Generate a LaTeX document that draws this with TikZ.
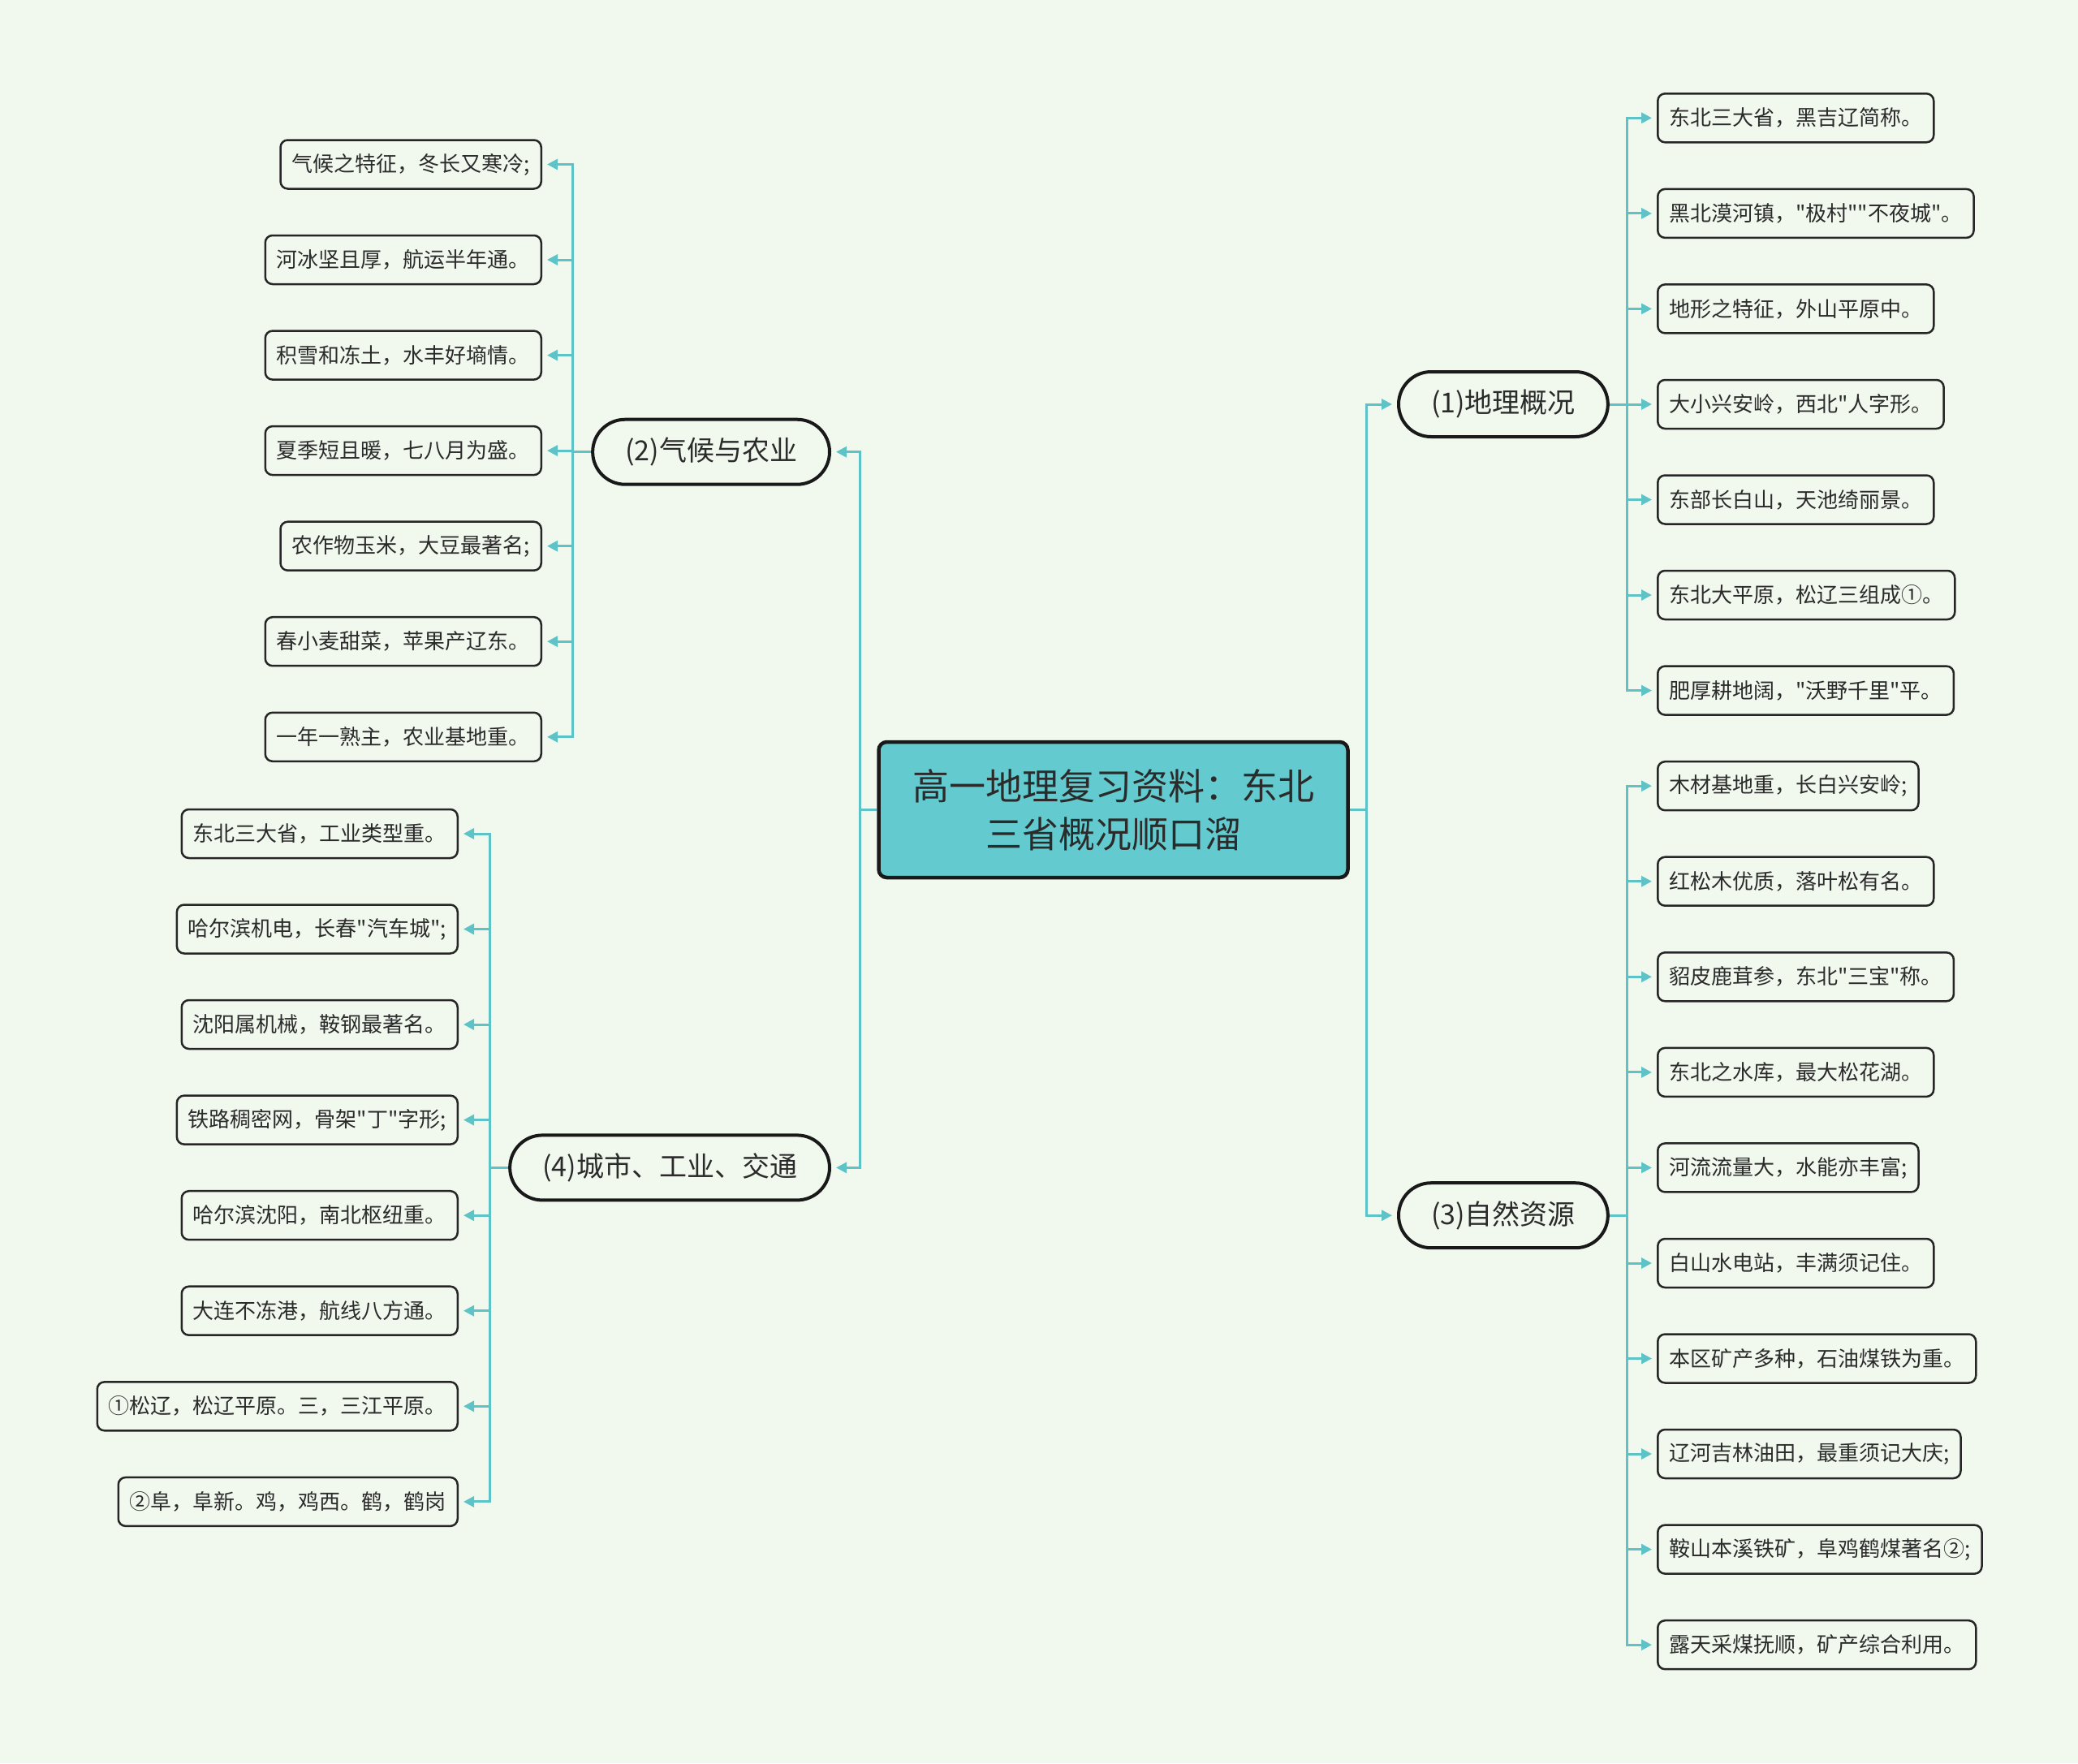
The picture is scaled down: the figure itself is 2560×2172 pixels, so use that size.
\documentclass[tikz,border=0pt]{standalone}
\usepackage{fontspec}
\setmainfont{Noto Sans CJK SC}[Ligatures=TeXOff]
\usetikzlibrary{arrows.meta}
\definecolor{bgC}{HTML}{F1F9EF}
\definecolor{lineC}{HTML}{5EC3C7}
\definecolor{rootC}{HTML}{63CBCF}
\definecolor{txtC}{HTML}{2B2B2B}
\tikzset{
  leaf/.style={draw=black!85, line width=2.5pt, rounded corners=9pt, fill=bgC,
    inner xsep=14pt, inner ysep=0pt, minimum height=60pt, text=txtC,
    font=\fontsize{26}{30}\selectfont},
  topic/.style={draw=black!90, line width=4pt, rounded corners=40pt, fill=bgC,
    inner xsep=40pt, inner ysep=0pt, minimum height=80pt, text=txtC,
    font=\fontsize{34}{40}\selectfont},
  rootbox/.style={draw=black!90, line width=4.5pt, rounded corners=10pt, fill=rootC,
    minimum width=578pt, minimum height=167pt, align=center, text=txtC,
    font=\fontsize{45}{59}\selectfont},
  conn/.style={draw=lineC, line width=3pt},
  arr/.style={conn, -{Triangle[length=13pt,width=13pt]}, shorten >=6pt}
}
\begin{document}
\begin{tikzpicture}[x=1pt,y=-1pt]
\fill[bgC] (0,0) rectangle (2560,2172);
\useasboundingbox (0,0) rectangle (2560,2172);

\node[rootbox] (root) at (1371.5,997.5) {高一地理复习资料：东北\\三省概况顺口溜};

\node[topic, anchor=west] (t1) at (1721,498) {(1)地理概况};
\node[topic, anchor=west] (t3) at (1721,1497.2) {(3)自然资源};
\node[topic, anchor=east] (t2) at (1024,556.7) {(2)气候与农业};
\node[topic, anchor=east] (t4) at (1024,1438.4) {(4)城市、工业、交通};

% (1) children
\node[leaf, anchor=west] (a1) at (2041,145.3) {东北三大省，黑吉辽简称。};
\node[leaf, anchor=west] (a2) at (2041,262.9) {黑北漠河镇，"极村""不夜城"。};
\node[leaf, anchor=west] (a3) at (2041,380.4) {地形之特征，外山平原中。};
\node[leaf, anchor=west] (a4) at (2041,498) {大小兴安岭，西北"人字形。};
\node[leaf, anchor=west] (a5) at (2041,615.5) {东部长白山，天池绮丽景。};
\node[leaf, anchor=west] (a6) at (2041,733) {东北大平原，松辽三组成①。};
\node[leaf, anchor=west] (a7) at (2041,850.6) {肥厚耕地阔，"沃野千里"平。};

% (3) children
\node[leaf, anchor=west] (c1) at (2041,968.2) {木材基地重，长白兴安岭;};
\node[leaf, anchor=west] (c2) at (2041,1085.7) {红松木优质，落叶松有名。};
\node[leaf, anchor=west] (c3) at (2041,1203.3) {貂皮鹿茸参，东北"三宝"称。};
\node[leaf, anchor=west] (c4) at (2041,1320.9) {东北之水库，最大松花湖。};
\node[leaf, anchor=west] (c5) at (2041,1438.4) {河流流量大，水能亦丰富;};
\node[leaf, anchor=west] (c6) at (2041,1556) {白山水电站，丰满须记住。};
\node[leaf, anchor=west] (c7) at (2041,1673.5) {本区矿产多种，石油煤铁为重。};
\node[leaf, anchor=west] (c8) at (2041,1791) {辽河吉林油田，最重须记大庆;};
\node[leaf, anchor=west] (c9) at (2041,1908.6) {鞍山本溪铁矿，阜鸡鹤煤著名②;};
\node[leaf, anchor=west] (c10) at (2041,2026.2) {露天采煤抚顺，矿产综合利用。};

% (2) children
\node[leaf, anchor=east] (b1) at (668,202.5) {气候之特征，冬长又寒冷;};
\node[leaf, anchor=east] (b2) at (668,320) {河冰坚且厚，航运半年通。};
\node[leaf, anchor=east] (b3) at (668,437.6) {积雪和冻土，水丰好墒情。};
\node[leaf, anchor=east] (b4) at (668,555.1) {夏季短且暖，七八月为盛。};
\node[leaf, anchor=east] (b5) at (668,672.7) {农作物玉米，大豆最著名;};
\node[leaf, anchor=east] (b6) at (668,790.2) {春小麦甜菜，苹果产辽东。};
\node[leaf, anchor=east] (b7) at (668,907.8) {一年一熟主，农业基地重。};

% (4) children
\node[leaf, anchor=east] (d1) at (565,1027) {东北三大省，工业类型重。};
\node[leaf, anchor=east] (d2) at (565,1144.5) {哈尔滨机电，长春"汽车城";};
\node[leaf, anchor=east] (d3) at (565,1262) {沈阳属机械，鞍钢最著名。};
\node[leaf, anchor=east] (d4) at (565,1379.6) {铁路稠密网，骨架"丁"字形;};
\node[leaf, anchor=east] (d5) at (565,1497.2) {哈尔滨沈阳，南北枢纽重。};
\node[leaf, anchor=east] (d6) at (565,1614.7) {大连不冻港，航线八方通。};
\node[leaf, anchor=east] (d7) at (565,1732.3) {①松辽，松辽平原。三，三江平原。};
\node[leaf, anchor=east] (d8) at (565,1849.9) {②阜，阜新。鸡，鸡西。鹤，鹤岗};

% connectors root -> topics
\foreach \t in {t1,t3}{
  \draw[arr] (root.east) -- ++(21,0) |- (\t.west);
}
\foreach \t in {t2,t4}{
  \draw[arr] (root.west) -- ++(-21,0) |- (\t.east);
}
% topics -> leaves
\foreach \c in {a1,a2,a3,a4,a5,a6,a7}{
  \draw[arr] (t1.east) -- ++(22,0) |- (\c.west);
}
\foreach \c in {c1,c2,c3,c4,c5,c6,c7,c8,c9,c10}{
  \draw[arr] (t3.east) -- ++(22,0) |- (\c.west);
}
\foreach \c in {b1,b2,b3,b4,b5,b6,b7}{
  \draw[arr] (t2.west) -- ++(-23,0) |- (\c.east);
}
\foreach \c in {d1,d2,d3,d4,d5,d6,d7,d8}{
  \draw[arr] (t4.west) -- ++(-23,0) |- (\c.east);
}
\end{tikzpicture}
\end{document}
